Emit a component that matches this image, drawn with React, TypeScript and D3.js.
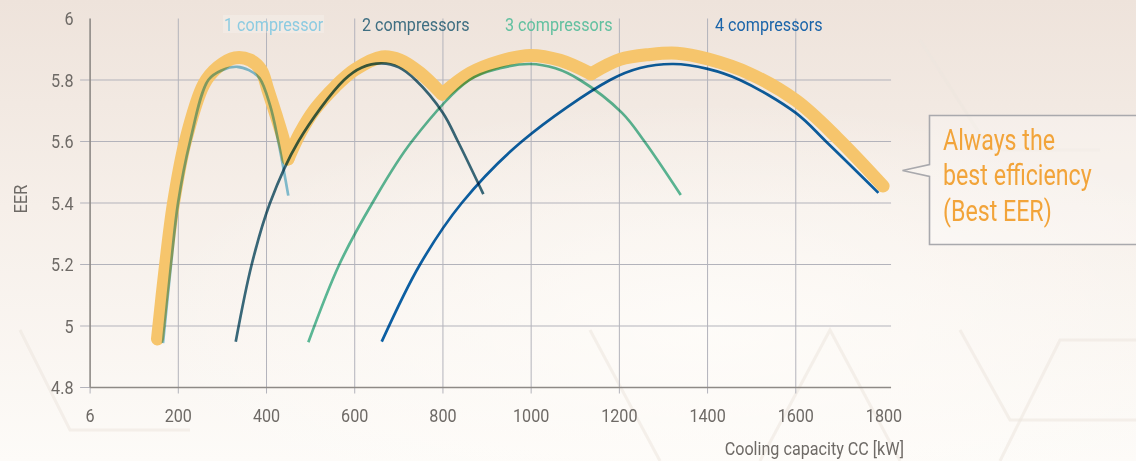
import React from "react";
import * as d3 from "d3";

// ---------- data ----------
const xTickValues = [0, 200, 400, 600, 800, 1000, 1200, 1400, 1600, 1800];
const xTickLabels = ["6", "200", "400", "600", "800", "1000", "1200", "1400", "1600", "1800"];
const xGridValues = [200, 400, 600, 800, 1000, 1200, 1400, 1600];
const yTickValues = [4.8, 5, 5.2, 5.4, 5.6, 5.8, 6];
const yTickLabels = ["4.8", "5", "5.2", "5.4", "5.6", "5.8", "6"];
const yGridValues = [5, 5.2, 5.4, 5.6, 5.8];

const seriesNames = ["1 compressor", "2 compressors", "3 compressors", "4 compressors"];
const labelStarts = [303.6, 616.4, 940.7, 1416.8];

const comp1: [number, number][] = [
  [165.3, 4.944], [183.5, 5.2], [199.4, 5.4], [226.6, 5.6], [268, 5.8], [299.1, 5.832],
  [333.7, 5.843], [360, 5.832], [384, 5.806], [407.9, 5.718], [426.7, 5.6], [449.4, 5.424],
];
const comp2: [number, number][] = [
  [330.2, 4.949], [366.4, 5.2], [407.9, 5.4], [472.1, 5.6], [575.7, 5.8], [616.4, 5.841],
  [661.2, 5.854], [700, 5.841], [738, 5.8], [800, 5.693], [834, 5.6], [891.6, 5.429],
];
const comp3: [number, number][] = [
  [494.8, 4.947], [565, 5.2], [640, 5.4], [729.3, 5.6], [860, 5.8], [929.3, 5.838],
  [997.5, 5.852], [1055, 5.838], [1110.8, 5.8], [1206, 5.693], [1257, 5.6], [1339.2, 5.426],
];
const comp4: [number, number][] = [
  [661.2, 4.949], [748, 5.2], [842.6, 5.4], [978.7, 5.6], [1178.9, 5.8], [1246.8, 5.839],
  [1322.4, 5.852], [1400, 5.836], [1473.5, 5.8], [1600, 5.693], [1668.5, 5.6], [1787.3, 5.433],
];

// "Best EER" envelope, one arc per compressor stage
const best1: [number, number][] = [
  [152.8, 4.958], [171.0, 5.198], [189.1, 5.4], [216.3, 5.602], [258.2, 5.787], [290.0, 5.842],
  [328.5, 5.872], [362.5, 5.865], [387.5, 5.833], [403.3, 5.767], [421.5, 5.686], [437.4, 5.611],
  [448.7, 5.543],
];
const best2: [number, number][] = [
  [448.7, 5.543], [476, 5.627], [510, 5.705], [555.3, 5.778], [600.7, 5.834], [661.9, 5.875],
  [702.7, 5.865], [748, 5.823], [797.9, 5.754],
];
const best3: [number, number][] = [
  [797.9, 5.754], [861.4, 5.822], [929.4, 5.861], [997.5, 5.88], [1065.5, 5.864], [1135.8, 5.82],
];
const best4: [number, number][] = [
  [1135.8, 5.82], [1201.6, 5.867], [1269.6, 5.883], [1330.8, 5.887], [1401.1, 5.868],
  [1496.4, 5.82], [1600.7, 5.733], [1693.7, 5.612], [1798, 5.455],
];

const calloutLines = ["Always the", "best efficiency", "(Best EER)"];

const curves = [comp1, comp2, comp3, comp4];
const bestArcs = [best1, best2, best3, best4];
const curveColors = ["#84c6de", "#3a6c80", "#5cbd9c", "#0c62ab"];
const labelColors = ["#8ccbe1", "#3f6f82", "#62c0a0", "#1a64a9"];

const FONT = "Roboto, 'Liberation Sans', sans-serif";

function CText(props: {
  x: number;
  y: number;
  size: number;
  fill: string;
  anchor?: string;
  sx?: number;
  rotate?: number;
  dy?: string;
  children: React.ReactNode;
}) {
  const { x, y, size, fill, anchor = "start", sx = 0.85, rotate = 0, dy, children } = props;
  return (
    <g transform={`translate(${x},${y}) rotate(${rotate}) scale(${sx},1)`}>
      <text x={0} y={0} dy={dy} fontSize={size} fill={fill} textAnchor={anchor}>
        {children}
      </text>
    </g>
  );
}

export default function App() {
  const W = 1136;
  const H = 461;
  const x = d3.scaleLinear().domain([0, 1800]).range([90.1, 884]);
  const y = d3.scaleLinear().domain([4.8, 6]).range([387.5, 18.5]);

  const line = d3
    .line<[number, number]>()
    .x((d) => x(d[0]))
    .y((d) => y(d[1]))
    .curve(d3.curveCatmullRom.alpha(0.5));

  const x0 = x(0);
  const xEnd = x(1816);
  const yBot = y(4.8);
  const yTop = y(6);
  const tickColor = "#6e6a66";

  return (
    <svg
      width={W}
      height={H}
      style={{ position: "absolute", left: 0, top: 0, display: "block" }}
      fontFamily={FONT}
    >
      <defs>
        <linearGradient id="bg" x1="0" y1="0" x2="0" y2="1">
          <stop offset="0" stopColor="#eee3db" />
          <stop offset="0.45" stopColor="#f6efe9" />
          <stop offset="1" stopColor="#fdfbf8" />
        </linearGradient>
        <radialGradient id="glow" cx="0.62" cy="0.72" r="0.5">
          <stop offset="0" stopColor="#fffdfa" stopOpacity="0.8" />
          <stop offset="1" stopColor="#fffdfa" stopOpacity="0" />
        </radialGradient>
      </defs>
      <rect x={0} y={0} width={W} height={H} fill="url(#bg)" />
      <rect x={0} y={0} width={W} height={H} fill="url(#glow)" />

      {/* faint decorative pattern */}
      <g stroke="#ece5de" strokeOpacity={0.55} strokeWidth={3} fill="none">
        <polyline points="20,330 70,430 190,430" />
        <polyline points="590,330 660,461" />
        <polyline points="760,461 830,330 900,461" />
        <polyline points="960,330 1010,420 1136,420" />
        <polyline points="1000,461 1060,340 1136,340" />
        <polyline points="920,40 990,150 1100,150" />
      </g>

      {/* grid */}
      <g stroke="#b3b3bb" strokeWidth={1}>
        {xGridValues.map((v) => (
          <line key={"gx" + v} x1={x(v)} x2={x(v)} y1={yTop} y2={yBot + 6} />
        ))}
        {yGridValues.map((v) => (
          <line key={"gy" + v} x1={x0 - 10} x2={xEnd} y1={y(v)} y2={y(v)} />
        ))}
        <line x1={x0 - 10} x2={x0} y1={yBot} y2={yBot} />
        <line x1={x0} x2={x0} y1={yBot} y2={yBot + 6} />
      </g>

      {/* axes */}
      <g stroke="#8e8a86" strokeWidth={1.6}>
        <line x1={x0} x2={x0} y1={yTop} y2={yBot} />
        <line x1={x0} x2={xEnd} y1={yBot} y2={yBot} />
      </g>

      {/* tick labels */}
      {yTickValues.map((v, i) => (
        <CText key={"ty" + v} x={73.5} y={y(v)} dy="0.36em" size={19} fill={tickColor} anchor="end">
          {yTickLabels[i]}
        </CText>
      ))}
      {xTickValues.map((v, i) => (
        <CText key={"tx" + v} x={x(v)} y={422} size={19} fill={tickColor} anchor="middle">
          {xTickLabels[i]}
        </CText>
      ))}
      <CText x={904} y={455} size={19} fill={tickColor} anchor="end">
        Cooling capacity CC [kW]
      </CText>
      <CText x={26.5} y={199} size={19} fill={tickColor} anchor="middle" rotate={-90}>
        EER
      </CText>

      {/* best EER envelope */}
      <g fill="none" stroke="#f6c56c" strokeWidth={13} strokeLinecap="round" strokeLinejoin="round">
        {bestArcs.map((arc, i) => (
          <path key={"b" + i} d={line(arc) || ""} />
        ))}
      </g>

      {/* compressor curves */}
      <g fill="none" strokeWidth={2.7} strokeLinecap="butt">
        {curves.map((c, i) => (
          <path
            key={"c" + i}
            d={line(c) || ""}
            stroke={curveColors[i]}
            style={{ mixBlendMode: "multiply" }}
          />
        ))}
      </g>

      {/* series labels */}
      <rect x={x(labelStarts[0]) - 1} y={15} width={101} height={18} fill="#ffffff" fillOpacity={0.22} />
      {seriesNames.map((n, i) => (
        <CText key={"l" + i} x={x(labelStarts[i])} y={31} size={19} fill={labelColors[i]}>
          {n}
        </CText>
      ))}

      {/* callout */}
      <path
        d={`M ${W + 5} 115.5 H 929.5 V 164.5 L 902.5 170.5 L 929.5 176.5 V 244.5 H ${W + 5}`}
        fill="#ffffff"
        fillOpacity={0.25}
        stroke="#a9a9ad"
        strokeWidth={1.6}
      />
      {calloutLines.map((t, i) => (
        <CText key={"co" + i} x={943} y={149.5 + i * 35.8} size={29} fill="#f2a43a" sx={0.8}>
          {t}
        </CText>
      ))}
    </svg>
  );
}
